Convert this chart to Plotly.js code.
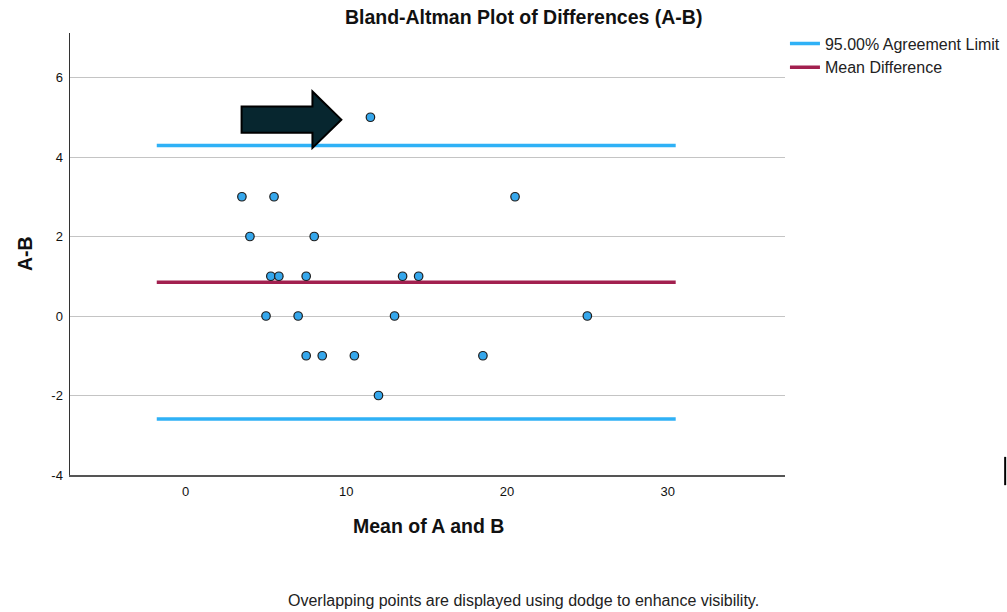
<!DOCTYPE html>
<html>
<head>
<meta charset="utf-8">
<script src="https://cdn.plot.ly/plotly-3.0.1.min.js"></script>
<style>html,body{margin:0;padding:0;background:#fff;}#chart{width:1007px;height:612px;}</style>
</head>
<body>
<div id="chart"></div>
<script>
// Data (dodged x positions as drawn)
const meanAB = [11.5, 3.5, 5.5, 20.5, 4, 8, 5.3, 5.8, 7.5, 13.5, 14.5, 5, 7, 13, 25, 7.5, 8.5, 10.5, 18.5, 12];
const diffAB = [5, 3, 3, 3, 2, 2, 1, 1, 1, 1, 1, 0, 0, 0, 0, -1, -1, -1, -1, -2];
const lineExtent = [-1.8, 30.5];
const upperLimit = 4.29;
const meanDifference = 0.85;
const lowerLimit = -2.59;
const xTicks = [0, 10, 20, 30];
const yTicks = [-4, -2, 0, 2, 4, 6];

const font = "Liberation Sans, Arial, sans-serif";

const traces = [
  {
    x: [lineExtent[0], lineExtent[1], null, lineExtent[0], lineExtent[1]],
    y: [upperLimit, upperLimit, null, lowerLimit, lowerLimit],
    mode: "lines", name: "95.00% Agreement Limit",
    line: {color: "#2fb1f6", width: 3.5}, hoverinfo: "skip"
  },
  {
    x: lineExtent, y: [meanDifference, meanDifference],
    mode: "lines", name: "Mean Difference",
    line: {color: "#a2204f", width: 3.5}, hoverinfo: "skip"
  },
  {
    x: meanAB, y: diffAB, mode: "markers", showlegend: false,
    marker: {size: 8.5, color: "#35a7ec", line: {color: "#1d1d1d", width: 1.2}}
  }
];

const layout = {
  width: 1007, height: 612,
  margin: {l: 70, r: 220, t: 33, b: 137},
  paper_bgcolor: "#ffffff", plot_bgcolor: "#ffffff",
  font: {family: font, color: "#222"},
  title: {text: "<b>Bland-Altman Plot of Differences (A-B)</b>", font: {size: 19.5, color: "#111", family: font},
          x: 0.52, xanchor: "center", xref: "container", y: 0.972, yanchor: "middle", yref: "container"},
  xaxis: {range: [-7.2, 37.3], tickvals: xTicks, ticktext: xTicks.map(String), showgrid: false, zeroline: false,
          showline: true, linecolor: "#555", linewidth: 1.8, ticks: "", ticklabelstandoff: 4,
          tickfont: {size: 13, color: "#111"}},
  yaxis: {range: [-4, 7.12], tickvals: yTicks, ticktext: yTicks.map(String), showgrid: true, gridcolor: "#c4c4c4", gridwidth: 1,
          zeroline: false, showline: true, linecolor: "#333", linewidth: 1.5, ticks: "", ticklabelstandoff: 3,
          tickfont: {size: 13, color: "#111"}},
  legend: {xref: "container", yref: "container", x: 0.7795, xanchor: "left", y: 0.9567, yanchor: "top",
           font: {size: 16, color: "#222", family: font},
           bgcolor: "rgba(0,0,0,0)", tracegroupgap: 0, itemwidth: 30},
  showlegend: true,
  annotations: [
    {text: "<b>A-B</b>", xref: "paper", yref: "paper", x: -0.063, y: 0.502, showarrow: false, textangle: -90,
     font: {size: 19.5, color: "#111"}, xanchor: "center", yanchor: "middle"},
    {text: "<b>Mean of A and B</b>", xref: "paper", yref: "paper", x: 0.502, y: -0.115, showarrow: false,
     font: {size: 19.5, color: "#111"}, xanchor: "center", yanchor: "middle"},
    {text: "Overlapping points are displayed using dodge to enhance visibility.", xref: "paper", yref: "paper",
     x: 0.635, y: -0.283, showarrow: false, font: {size: 16, color: "#222"}, xanchor: "center", yanchor: "middle"}
  ],
  shapes: [
    {type: "path", xref: "x", yref: "y",
     path: "M 3.48 4.61 L 7.89 4.61 L 7.89 4.23 L 9.69 4.94 L 7.89 5.65 L 7.89 5.27 L 3.48 5.27 Z",
     fillcolor: "#07262f", line: {color: "#000", width: 2}},
    {type: "line", xref: "paper", yref: "paper", x0: 1.308, x1: 1.308, y0: -0.023, y1: 0.041,
     line: {color: "#000", width: 2}}
  ]
};

Plotly.newPlot("chart", traces, layout, {staticPlot: true, displayModeBar: false});
</script>
</body>
</html>
